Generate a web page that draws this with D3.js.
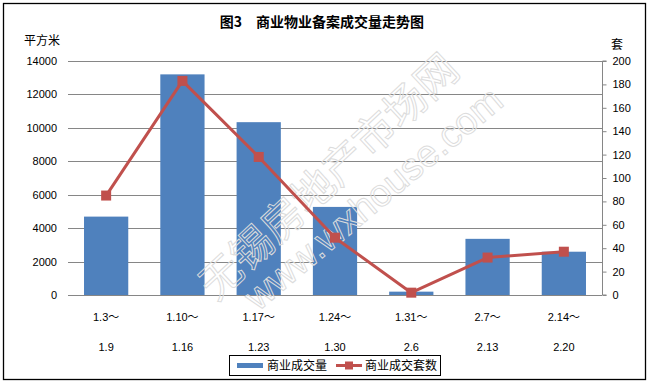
<!DOCTYPE html>
<html>
<head>
<meta charset="utf-8">
<script src="https://cdn.jsdelivr.net/npm/d3@7"></script>
<style>
  body { margin: 0; background: #fff; }
  svg { display: block; }
  text { font-family: "Noto Sans CJK SC", "Liberation Sans", sans-serif; }
  text.num { font-family: "Liberation Sans", Arial, "Noto Sans CJK SC", sans-serif; }
</style>
</head>
<body>
<svg width="650" height="384"></svg>
<script>
// data
const weeksFrom = ['1.3～', '1.10～', '1.17～', '1.24～', '1.31～', '2.7～', '2.14～']
const weeksTo = ['1.9', '1.16', '1.23', '1.30', '2.6', '2.13', '2.20']
const area = [4690, 13200, 10340, 5270, 200, 3360, 2590]
const units = [85, 183, 118, 49, 2, 32, 37]
const leftTicks = [0, 2000, 4000, 6000, 8000, 10000, 12000, 14000]
const rightTicks = [0, 20, 40, 60, 80, 100, 120, 140, 160, 180, 200]

const blue = '#4F81BD'
const red = '#C0504D'

const svg = d3.select('svg')
const plot = {left: 68, right: 602, top: 61, bottom: 295}

const x = d3.scaleBand()
  .domain(d3.range(weeksFrom.length))
  .range([plot.left, plot.right])
  .paddingInner(0.42)
  .paddingOuter(0.21)
const yL = d3.scaleLinear().domain([0, 14000]).range([plot.bottom, plot.top])
const yR = d3.scaleLinear().domain([0, 200]).range([plot.bottom, plot.top])

// outer frame
svg.append('rect')
  .attr('x', 3.5).attr('y', 3.5)
  .attr('width', 642).attr('height', 376)
  .attr('fill', '#fff').attr('stroke', '#000').attr('stroke-width', 1.3)

// gridlines + left labels
const gl = svg.append('g')
gl.selectAll('line').data(leftTicks).enter().append('line')
  .attr('x1', plot.left).attr('x2', plot.right)
  .attr('y1', d => Math.round(yL(d)) + 0.5).attr('y2', d => Math.round(yL(d)) + 0.5)
  .attr('stroke', '#868686').attr('stroke-width', 1)
gl.selectAll('text').data(leftTicks).enter().append('text')
  .attr('class', 'num')
  .attr('x', 57).attr('y', d => yL(d) + 4)
  .attr('text-anchor', 'end')
  .attr('font-size', 11)
  .text(d => d)

// right axis
const ra = svg.append('g')
  .attr('transform', `translate(${plot.right + 0.5},0)`)
  .call(d3.axisRight(yR).tickValues(rightTicks).tickSize(4).tickPadding(6))
ra.select('.domain').attr('stroke', '#868686').attr('d', `M4,${plot.top}H0V${plot.bottom}H4`)
ra.selectAll('.tick line').attr('stroke', '#868686')
ra.selectAll('.tick text')
  .attr('class', 'num')
  .attr('font-size', 11)
  .attr('fill', '#000')

// bars
svg.append('g').selectAll('rect').data(area).enter().append('rect')
  .attr('x', (d, i) => x(i))
  .attr('width', x.bandwidth())
  .attr('y', d => yL(d))
  .attr('height', d => plot.bottom - yL(d))
  .attr('fill', blue)

// watermark
const wm = svg.append('g')
  .attr('fill', 'none')
  .attr('stroke', '#dcdcdc')
  .attr('stroke-width', 1)
wm.append('text')
  .attr('transform', 'translate(216,302) rotate(-43)')
  .attr('font-size', 42)
  .text('无锡房地产市场网')
wm.append('text')
  .attr('class', 'num')
  .attr('transform', 'translate(258,312) rotate(-40)')
  .attr('font-size', 38)
  .text('www.wxhouse.com')

// line series
const cx = i => x(i) + x.bandwidth() / 2
svg.append('path')
  .datum(units)
  .attr('d', d3.line().x((d, i) => cx(i)).y(d => yR(d)))
  .attr('fill', 'none')
  .attr('stroke', red)
  .attr('stroke-width', 3)
  .attr('stroke-linejoin', 'round')
svg.append('g').selectAll('rect').data(units).enter().append('rect')
  .attr('x', (d, i) => cx(i) - 5)
  .attr('y', d => yR(d) - 5)
  .attr('width', 10).attr('height', 10)
  .attr('fill', red)

// category labels
const xl = svg.append('g').attr('font-size', 11).attr('text-anchor', 'middle')
xl.selectAll('.l1').data(weeksFrom).enter().append('text')
  .attr('class', 'num l1')
  .attr('x', (d, i) => cx(i)).attr('y', 321)
  .text(d => d)
xl.selectAll('.l2').data(weeksTo).enter().append('text')
  .attr('class', 'num l2')
  .attr('x', (d, i) => cx(i)).attr('y', 351)
  .text(d => d)

// titles
svg.append('text')
  .attr('x', 322).attr('y', 27)
  .attr('text-anchor', 'middle')
  .attr('font-size', 14).attr('font-weight', 'bold')
  .text('图3　商业物业备案成交量走势图')
svg.append('text')
  .attr('x', 24).attr('y', 45)
  .attr('font-size', 12)
  .text('平方米')
svg.append('text')
  .attr('x', 611).attr('y', 49)
  .attr('font-size', 12)
  .text('套')

// legend
const lg = svg.append('g')
lg.append('rect')
  .attr('x', 229.5).attr('y', 355.5).attr('width', 211).attr('height', 20)
  .attr('fill', '#fff').attr('stroke', '#000').attr('stroke-width', 1)
lg.append('rect')
  .attr('x', 237).attr('y', 363).attr('width', 26).attr('height', 5)
  .attr('fill', blue)
lg.append('text').attr('x', 267).attr('y', 370).attr('font-size', 12).text('商业成交量')
lg.append('line')
  .attr('x1', 336).attr('x2', 362).attr('y1', 365.5).attr('y2', 365.5)
  .attr('stroke', red).attr('stroke-width', 3)
lg.append('rect')
  .attr('x', 345).attr('y', 361.5).attr('width', 8).attr('height', 8)
  .attr('fill', red)
lg.append('text').attr('x', 365).attr('y', 370).attr('font-size', 12).text('商业成交套数')
</script>
</body>
</html>
